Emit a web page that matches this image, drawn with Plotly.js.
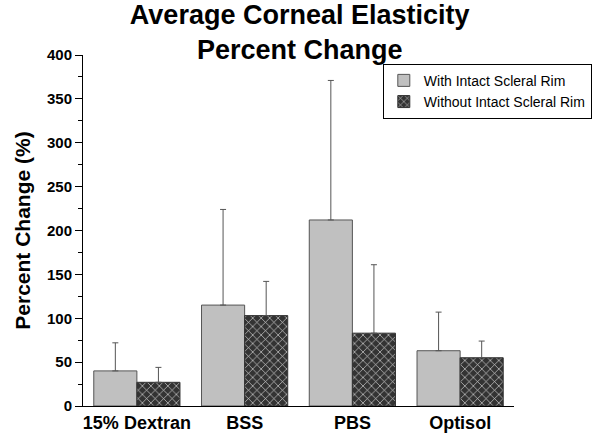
<!DOCTYPE html>
<html>
<head>
<meta charset="utf-8">
<script src="https://cdn.plot.ly/plotly-3.0.1.min.js"></script>
<style>
  html, body { margin: 0; padding: 0; background: #fff; }
  #chart { width: 603px; height: 442px; }
</style>
</head>
<body>
<div id="chart"></div>
<script>
// Values
const solutions = ['15% Dextran', 'BSS', 'PBS', 'Optisol'];
const withRim = [40, 115, 212, 63];
const withRimErr = [32, 109, 159, 44];
const withoutRim = [27, 103, 83, 55];
const withoutRimErr = [17, 39, 78, 19];
const yTicks = [0, 50, 100, 150, 200, 250, 300, 350, 400];

const font = 'Liberation Sans, Arial, sans-serif';

const data = [
  {
    type: 'bar',
    name: 'With Intact Scleral Rim',
    x: solutions,
    y: withRim,
    error_y: {
      type: 'data', symmetric: false, array: withRimErr,
      arrayminus: withRim.map(() => 0),
      color: '#555', thickness: 1, width: 3
    },
    marker: { color: '#c0c0c0', line: { color: '#555', width: 1 } }
  },
  {
    type: 'bar',
    name: 'Without Intact Scleral Rim',
    x: solutions,
    y: withoutRim,
    error_y: {
      type: 'data', symmetric: false, array: withoutRimErr,
      arrayminus: withoutRim.map(() => 0),
      color: '#555', thickness: 1, width: 3
    },
    marker: {
      color: '#333',
      line: { color: '#333', width: 1 },
      pattern: { shape: 'x', fgcolor: '#e0e0e0', bgcolor: '#333', size: 6, solidity: 0.2 }
    }
  }
];

const layout = {
  width: 603,
  height: 442,
  margin: { l: 83, r: 88, t: 55, b: 36 },
  paper_bgcolor: '#fff',
  plot_bgcolor: '#fff',
  font: { family: font, color: '#000' },
  title: {
    text: 'Average Corneal Elasticity<br>Percent Change',
    font: { family: font, size: 27, weight: 'bold' },
    x: 0.497, xanchor: 'center',
    yref: 'container', y: 0.945, yanchor: 'bottom'
  },
  barmode: 'group',
  bargap: 0.2,
  bargroupgap: 0,
  showlegend: true,
  legend: {
    x: 0.694, y: 0.975, xanchor: 'left', yanchor: 'top',
    bordercolor: '#000', borderwidth: 1,
    font: { family: font, size: 14 },
    tracegroupgap: 0,
    itemwidth: 30
  },
  xaxis: {
    range: [-0.5, 3.5],
    showline: true, linecolor: '#000', linewidth: 1,
    ticks: '', showgrid: false, zeroline: false,
    tickfont: { family: font, size: 18, weight: 'bold' }
  },
  yaxis: {
    range: [0, 400],
    tickvals: yTicks,
    showline: true, linecolor: '#000', linewidth: 1,
    ticks: 'outside', ticklen: 7, tickcolor: '#000',
    minor: { dtick: 25, ticks: 'outside', ticklen: 4, tickcolor: '#000' },
    showgrid: false, zeroline: false,
    tickfont: { family: font, size: 15, weight: 'bold' },
    title: {
      text: 'Percent Change (%)',
      font: { family: font, size: 21, weight: 'bold' },
      standoff: 10
    }
  }
};

Plotly.newPlot('chart', data, layout, { displayModeBar: false, staticPlot: true });
</script>
</body>
</html>
